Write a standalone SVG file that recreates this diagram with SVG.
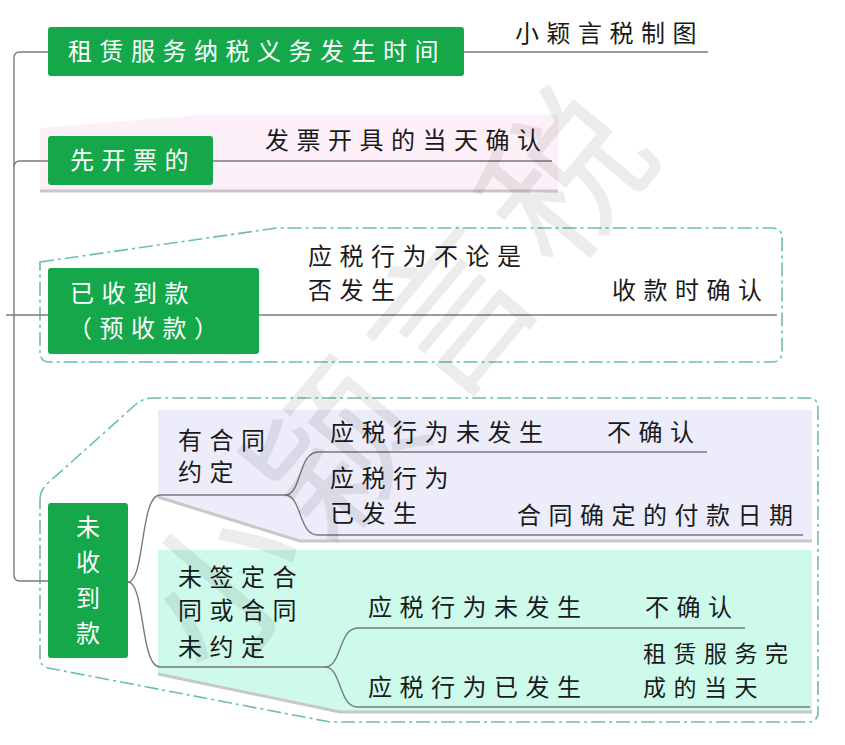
<svg xmlns="http://www.w3.org/2000/svg" width="845" height="745" viewBox="0 0 845 745">
<defs>
<style>
.t{font-family:"Noto Sans CJK SC","Noto Sans",sans-serif;font-size:24px;letter-spacing:7.5px;fill:#1a1a1a}
.w{fill:#ffffff}
.box{fill:#14a84b}
.ln{fill:none;stroke:#7a7a7a;stroke-width:1.4}
.dash{fill:none;stroke:#6cbfae;stroke-width:1.6;stroke-dasharray:14 4 3 4}
.shadow{fill:none;stroke:#c8c8c8;stroke-width:3}
.v{font-family:"Noto Sans CJK SC","Noto Sans",sans-serif;font-size:24px;fill:#ffffff;text-anchor:middle}
</style>
</defs>
<rect width="845" height="745" fill="#ffffff"/>

<g id="backgrounds">
<polygon points="40,128 200,115 558,115 558,190 40,190" fill="#fdf0f8"/>
<line x1="40" y1="191" x2="558" y2="191" class="shadow"/>
<path d="M40,262 L277,228 L772,228 Q782,228 782,238 L782,352 Q782,362 772,362 L50,362 Q40,362 40,352 Z" class="dash"/>
<path d="M40,500 Q40,490 48,483 L134,406 Q142,398 152,398 L808,398 Q818,398 818,408 L818,712 Q818,722 808,722 L330,722 L48,668 Q40,666 40,658 Z" class="dash"/>
<polygon points="158,410 812,410 812,540 300,540 158,496" fill="#ececfa"/>
<polyline points="158,497 300,541 812,541" class="shadow"/>
<polygon points="158,550 812,550 812,711 340,711 158,673" fill="#cdfaeb"/>
<polyline points="158,674 340,712 812,712" class="shadow"/>
</g>

<g id="connectors">
<path class="ln" d="M48,52 L20,52 Q14,52 14,58 L14,575 Q14,581 20,581 L48,581"/>
<path class="ln" d="M14,167 Q14,161 20,161 L48,161"/>
<path class="ln" d="M6,315 L48,315"/>
<path class="ln" d="M464,52 L708,52"/>
<path class="ln" d="M213,161 L552,161"/>
<path class="ln" d="M259,315 L777,315"/>
<path class="ln" d="M128,582 C145,582 140,495 160,495 L285,495"/>
<path class="ln" d="M285,495 C302,495 298,452 318,452 L707,452"/>
<path class="ln" d="M285,495 C302,495 298,535 318,535 L803,535"/>
<path class="ln" d="M128,582 C145,582 140,667 160,667 L325,667"/>
<path class="ln" d="M325,667 C342,667 338,628 358,628 L745,628"/>
<path class="ln" d="M325,667 C342,667 338,707 358,707 L810,707"/>
</g>

<g id="node-root">
<rect class="box" x="48" y="27" width="416" height="49" rx="3"/>
<text class="t w" x="68" y="60">租赁服务纳税义务发生时间</text>
<text class="t" x="515" y="42">小颖言税制图</text>
</g>

<g id="node-invoice">
<rect class="box" x="48" y="136" width="165" height="49" rx="3"/>
<text class="t w" x="70" y="169">先开票的</text>
<text class="t" x="265" y="149">发票开具的当天确认</text>
</g>

<g id="node-received">
<rect class="box" x="48" y="268" width="211" height="86" rx="3"/>
<text class="t w" x="70" y="302">已收到款</text>
<text class="t w" x="68" y="337">（预收款）</text>
<text class="t" x="308" y="265">应税行为不论是</text>
<text class="t" x="308" y="299">否发生</text>
<text class="t" x="612" y="299">收款时确认</text>
</g>

<g id="node-unreceived">
<rect class="box" x="48" y="503" width="80" height="155" rx="3"/>
<text class="v" x="88" y="536">未</text>
<text class="v" x="88" y="571">收</text>
<text class="v" x="88" y="607">到</text>
<text class="v" x="88" y="642">款</text>
</g>

<g id="node-contract">
<text class="t" x="178" y="449">有合同</text>
<text class="t" x="178" y="481">约定</text>
<text class="t" x="330" y="441">应税行为未发生</text>
<text class="t" x="607" y="441">不确认</text>
<text class="t" x="330" y="487">应税行为</text>
<text class="t" x="330" y="522">已发生</text>
<text class="t" x="517" y="524">合同确定的付款日期</text>
</g>

<g id="node-nocontract">
<text class="t" x="178" y="586">未签定合</text>
<text class="t" x="178" y="619">同或合同</text>
<text class="t" x="178" y="656">未约定</text>
<text class="t" x="368" y="616">应税行为未发生</text>
<text class="t" x="645" y="616">不确认</text>
<text class="t" x="368" y="696">应税行为已发生</text>
<text class="t" x="643" y="662" style="font-size:23px">租赁服务完</text>
<text class="t" x="643" y="696" style="font-size:23px">成的当天</text>
</g>

<g id="watermark" transform="translate(400,375) rotate(-50)" opacity="0.07">
<text x="0" y="58" text-anchor="middle" style="font-family:'Noto Sans CJK SC',sans-serif;font-size:160px;letter-spacing:18px;fill:#000">小颖言税</text>
</g>
</svg>
